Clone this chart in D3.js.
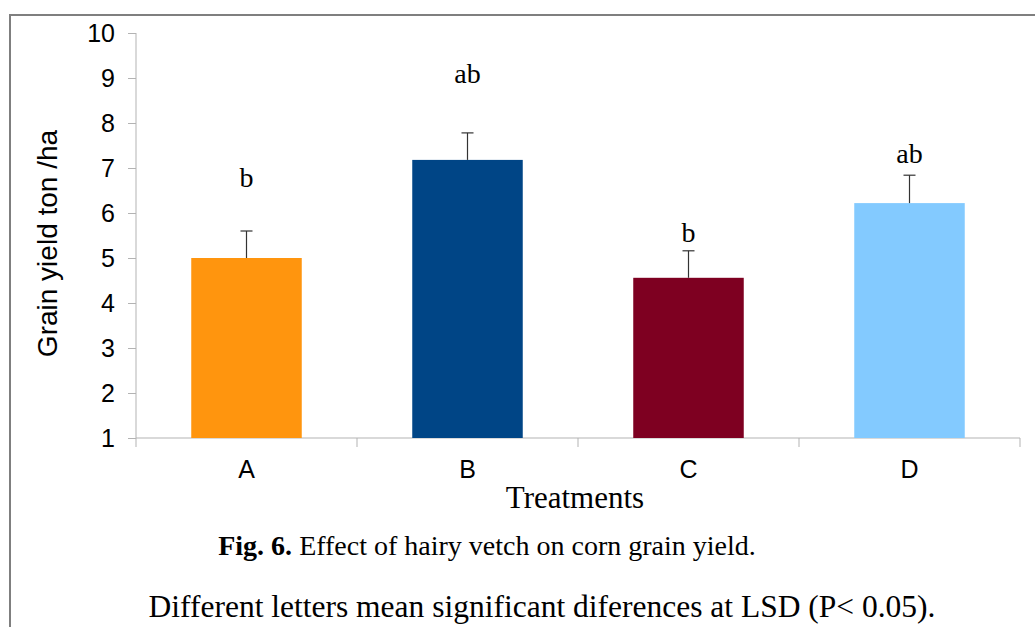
<!DOCTYPE html>
<html>
<head>
<meta charset="utf-8">
<script src="https://cdn.jsdelivr.net/npm/d3@7"></script>
<style>
  html, body { margin: 0; padding: 0; background: #fff; }
  svg { display: block; }
</style>
</head>
<body>
<script>
// ---- data ----
const categories = ["A", "B", "C", "D"];
const yieldValues = [5.0, 7.18, 4.56, 6.22];
const errorValues = [0.6, 0.6, 0.6, 0.62];
const sigLetters = ["b", "ab", "b", "ab"];
const letterLevels = [6.58, 8.89, 5.36, 7.11];
const barColors = ["#ff950e", "#004586", "#7e0021", "#83caff"];
const yTicks = [1, 2, 3, 4, 5, 6, 7, 8, 9, 10];

const W = 1035, H = 627;
const svg = d3.select("body").append("svg").attr("width", W).attr("height", H);

// outer frame
svg.append("rect").attr("x", 10).attr("y", 15).attr("width", 1040).attr("height", 640)
  .attr("fill", "none").attr("stroke", "#7f7f7f").attr("stroke-width", 2);

const x = d3.scaleBand().domain(categories).range([136, 1020]).paddingInner(0.5).paddingOuter(0.25);
const y = d3.scaleLinear().domain([1, 10]).range([438, 33]);

const axisColor = "#b3b3b3";
const sans = "'Liberation Sans', Arial, sans-serif";
const serif = "'Liberation Serif', 'Times New Roman', serif";

// y axis
const yAxis = svg.append("g").attr("transform", "translate(136,0)")
  .call(d3.axisLeft(y).tickValues(yTicks).tickSize(8).tickPadding(13).tickFormat(d3.format("d")));
yAxis.attr("font-size", null).attr("font-family", null);
yAxis.select(".domain").attr("stroke", axisColor).attr("d", "M0," + y(10) + "V" + y(1));
yAxis.selectAll(".tick line").attr("stroke", axisColor);
yAxis.selectAll(".tick text").attr("fill", "#000")
  .style("font-family", sans).style("font-size", "25px");

// x axis line and category boundary ticks
const xBoundaries = categories.map(c => x(c) - x.step() * 0.25).concat([1020]);
svg.append("line").attr("x1", 136).attr("x2", 1020).attr("y1", y(1)).attr("y2", y(1))
  .attr("stroke", axisColor).attr("stroke-width", 1);
svg.selectAll(".xb").data(xBoundaries).enter().append("line")
  .attr("x1", d => d).attr("x2", d => d).attr("y1", y(1)).attr("y2", y(1) + 9)
  .attr("stroke", axisColor);

// category labels
svg.selectAll(".cat").data(categories).enter().append("text")
  .attr("x", d => x(d) + x.bandwidth() / 2).attr("y", 478)
  .attr("text-anchor", "middle")
  .style("font-family", sans).style("font-size", "25px")
  .text(d => d);

// bars
svg.selectAll(".bar").data(categories).enter().append("rect")
  .attr("x", d => x(d)).attr("width", x.bandwidth())
  .attr("y", (d, i) => y(yieldValues[i]))
  .attr("height", (d, i) => y(1) - y(yieldValues[i]))
  .attr("fill", (d, i) => barColors[i]);

// error bars (upper)
const eb = svg.selectAll(".eb").data(categories).enter().append("g");
eb.append("line")
  .attr("x1", d => x(d) + x.bandwidth() / 2).attr("x2", d => x(d) + x.bandwidth() / 2)
  .attr("y1", (d, i) => y(yieldValues[i])).attr("y2", (d, i) => y(yieldValues[i] + errorValues[i]))
  .attr("stroke", "#333").attr("stroke-width", 1.2);
eb.append("line")
  .attr("x1", d => x(d) + x.bandwidth() / 2 - 6).attr("x2", d => x(d) + x.bandwidth() / 2 + 6)
  .attr("y1", (d, i) => y(yieldValues[i] + errorValues[i])).attr("y2", (d, i) => y(yieldValues[i] + errorValues[i]))
  .attr("stroke", "#333").attr("stroke-width", 1.2);

// significance letters
svg.selectAll(".sig").data(categories).enter().append("text")
  .attr("x", d => x(d) + x.bandwidth() / 2).attr("y", (d, i) => y(letterLevels[i]))
  .attr("text-anchor", "middle")
  .style("font-family", serif).style("font-size", "28px")
  .text((d, i) => sigLetters[i]);

// y axis title
svg.append("text").attr("transform", "translate(57,243.5) rotate(-90)")
  .attr("text-anchor", "middle")
  .style("font-family", sans).style("font-size", "28px")
  .text("Grain yield ton /ha");

// x axis title
svg.append("text").attr("x", 575).attr("y", 508).attr("text-anchor", "middle")
  .style("font-family", serif).style("font-size", "31px")
  .text("Treatments");

// caption
const cap = svg.append("text").attr("x", 487).attr("y", 555).attr("text-anchor", "middle")
  .style("font-family", serif).style("font-size", "28px");
cap.append("tspan").style("font-weight", "bold").text("Fig. 6.");
cap.append("tspan").text(" Effect of hairy vetch on corn grain yield.");

svg.append("text").attr("x", 542).attr("y", 617).attr("text-anchor", "middle")
  .style("font-family", serif).style("font-size", "31.5px")
  .text("Different letters mean significant diferences at LSD (P< 0.05).");
</script>
</body>
</html>
